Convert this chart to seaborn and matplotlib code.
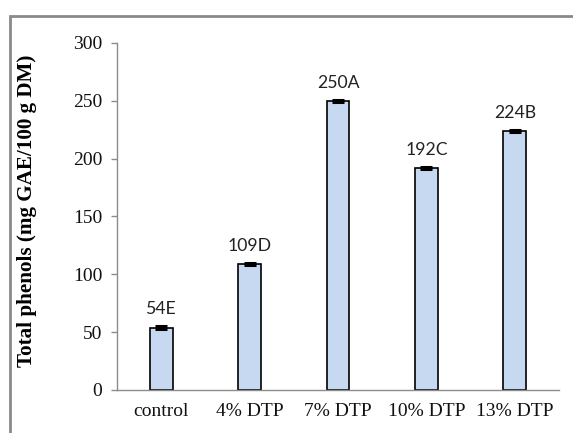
import matplotlib
matplotlib.use("Agg")
import matplotlib.pyplot as plt
import seaborn as sns
import pandas as pd
from matplotlib.patches import Rectangle

categories = ["control", "4% DTP", "7% DTP", "10% DTP", "13% DTP"]
values = [54, 109, 250, 192, 224]
errors = [1.0, 1.0, 1.0, 1.0, 1.0]
letters = ["E", "D", "A", "C", "B"]
yticks = [0, 50, 100, 150, 200, 250, 300]

sns.set_theme(style="white")
plt.rcParams["font.family"] = ["Liberation Serif", "DejaVu Serif"]

W, H = 573, 433
fig = plt.figure(figsize=(W / 100, H / 100), dpi=100)
ax = fig.add_axes([117 / W, 1 - 390 / H, (559 - 117) / W, (390 - 43) / H])

df = pd.DataFrame({"cat": categories, "val": values})
sns.barplot(data=df, x="cat", y="val", ax=ax, color="#C6D9F1", saturation=1,
            width=0.26, edgecolor="black", linewidth=1.2, errorbar=None)
ax.errorbar(range(len(categories)), values, yerr=errors, fmt="none",
            ecolor="black", elinewidth=2, capsize=4.5, capthick=2.2, zorder=5)

for i, (v, l) in enumerate(zip(values, letters)):
    ax.annotate(f"{v}{l}", xy=(i, v), xytext=(0, 9.5), textcoords="offset points",
                ha="center", va="baseline", fontsize=12.7, family=["Lato", "DejaVu Sans"],
                color="#222222")

ax.set_ylim(0, 300)
ax.set_xlim(-0.5, len(categories) - 0.5)
ax.set_yticks(yticks)
ax.set_yticklabels([str(t) for t in yticks])
for s in ["top", "right"]:
    ax.spines[s].set_visible(False)
for s in ["left", "bottom"]:
    ax.spines[s].set_color("#8c8c8c")
    ax.spines[s].set_linewidth(1.0)
ax.tick_params(axis="y", left=True, length=4, color="#8c8c8c", width=1,
               labelsize=14, pad=6.5, labelcolor="#111111")
ax.tick_params(axis="x", bottom=False, length=0, labelsize=14, pad=9.5, labelcolor="#111111")
ax.set_xlabel("")
ax.set_ylabel("Total phenols (mg GAE/100 g DM)", fontsize=15.2, fontweight="bold",
              color="black")
ax.yaxis.set_label_coords((37 - 117) / (559 - 117), (390 - 211) / (390 - 43))

fig.patches.append(Rectangle((10 / W, -0.2), 1.2, 1 - 16 / H + 0.2, transform=fig.transFigure,
                             fill=False, edgecolor="#8a8a8a", linewidth=2, figure=fig))

fig.savefig("out.png", dpi=100)
